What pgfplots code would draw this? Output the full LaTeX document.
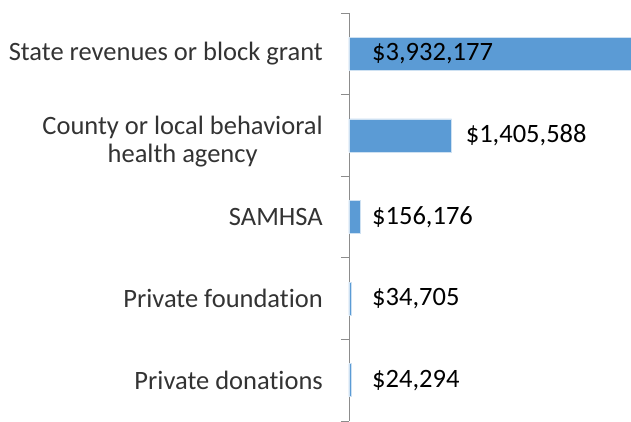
\documentclass[border=0pt]{standalone}
\usepackage{fontspec}
\setmainfont{Carlito}[Ligatures=NoCommon]
\usepackage{pgfplots}
\pgfplotsset{compat=1.18}
\definecolor{barblue}{HTML}{5B9BD5}
\begin{document}
\begin{tikzpicture}
\begin{axis}[
  xbar,
  bar width=33pt,
  width=282pt, height=408pt,
  scale only axis,
  xmin=0, xmax=3860000,
  ymin=-0.5, ymax=4.5,
  y dir=reverse,
  hide x axis,
  axis y line*=left,
  y axis line style={-, draw=black!45, line width=0.8pt},
  ytick={0,1,2,3,4},
  yticklabels={State revenues or block grant,{\rule{0pt}{30pt}County or local behavioral\\health agency},SAMHSA,Private foundation,Private donations},
  major tick length=0pt,
  minor ytick={-0.5,0.5,1.5,2.5,3.5,4.5},
  minor tick length=8pt,
  tick align=outside,
  minor tick style={draw=black!45, line width=0.8pt},
  yticklabel style={font=\fontsize{26.5}{28}\selectfont, align=center, anchor=east, inner sep=0pt, xshift=-26pt, text=black!80},
  clip=true,
]
\addplot[fill=barblue, draw=white!70!barblue, line width=0.5pt] coordinates {
  (3932177,0) (1405588,1) (156176,2) (34705,3) (24294,4)};
\end{axis}
\begin{axis}[
  width=282pt, height=408pt,
  scale only axis,
  xmin=0, xmax=3860000,
  ymin=-0.5, ymax=4.5,
  y dir=reverse,
  hide axis,
  clip=false,
]
\addplot[only marks, mark=none,
  nodes near coords, point meta=explicit symbolic,
  nodes near coords style={anchor=west, inner sep=0pt, font=\fontsize{26.5}{28}\selectfont, text=black}]
  table[meta=lab, x=x, y=y] {
  x y lab
  315000 0 \$3,932,177
  1597000 1 \$1,405,588
  315000 2 \$156,176
  315000 3 \$34,705
  315000 4 \$24,294
};
\end{axis}
\path (current axis.south west) ++(-349pt,0pt) (current axis.north east) ++(0pt,13pt);
\end{tikzpicture}
\end{document}
